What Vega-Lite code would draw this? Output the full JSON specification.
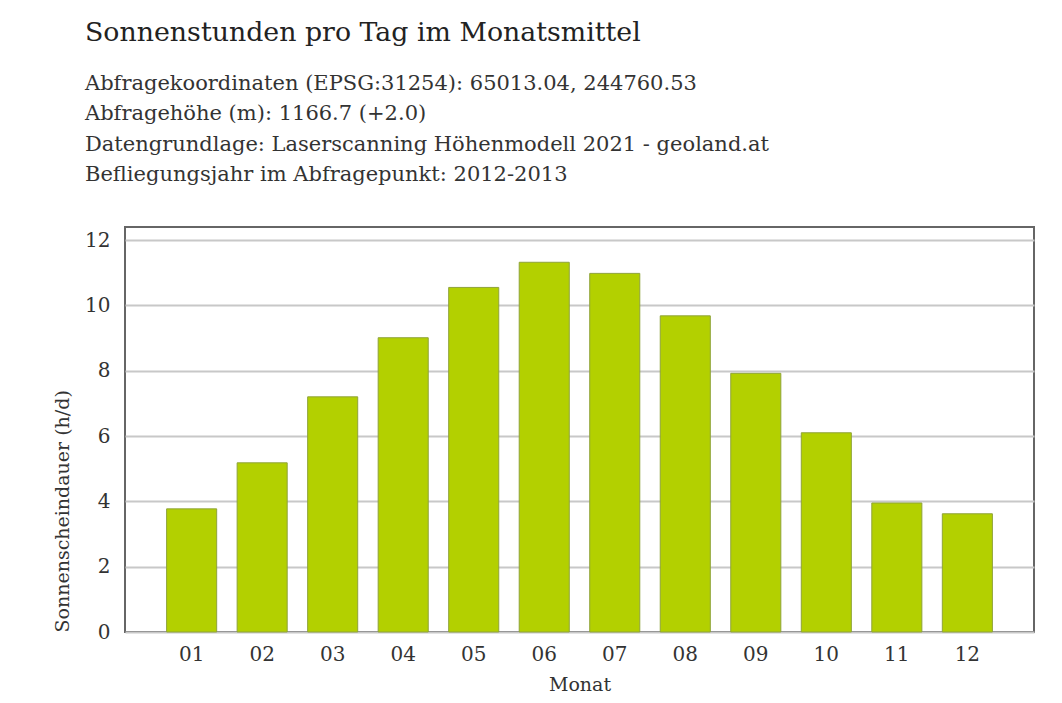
{
  "$schema": "https://vega.github.io/schema/vega-lite/v6.json",
  "autosize": "none",
  "width": 909,
  "height": 405,
  "padding": {"left": 125, "top": 227, "right": 28, "bottom": 71},
  "background": "white",
  "title": {
    "text": "Sonnenstunden pro Tag im Monatsmittel",
    "subtitle": [
      "Abfragekoordinaten (EPSG:31254): 65013.04, 244760.53",
      "Abfragehöhe (m): 1166.7 (+2.0)",
      "Datengrundlage: Laserscanning Höhenmodell 2021 - geoland.at",
      "Befliegungsjahr im Abfragepunkt: 2012-2013"
    ],
    "anchor": "start",
    "frame": "group",
    "dx": -40,
    "offset": 42,
    "font": "DejaVu Serif",
    "fontSize": 26.8,
    "fontWeight": "normal",
    "color": "#222222",
    "subtitleFont": "DejaVu Serif",
    "subtitleFontSize": 21,
    "subtitleColor": "#333333",
    "subtitlePadding": 26,
    "subtitleLineHeight": 30.5
  },
  "data": {
    "values": [
      {"Monat": "01", "Stunden": 3.77},
      {"Monat": "02", "Stunden": 5.18},
      {"Monat": "03", "Stunden": 7.2},
      {"Monat": "04", "Stunden": 9.01},
      {"Monat": "05", "Stunden": 10.55},
      {"Monat": "06", "Stunden": 11.32},
      {"Monat": "07", "Stunden": 10.98},
      {"Monat": "08", "Stunden": 9.68},
      {"Monat": "09", "Stunden": 7.92},
      {"Monat": "10", "Stunden": 6.1},
      {"Monat": "11", "Stunden": 3.95},
      {"Monat": "12", "Stunden": 3.62}
    ]
  },
  "mark": {"type": "bar", "color": "#b3d000", "stroke": "#8fa33a", "strokeWidth": 1},
  "encoding": {
    "x": {
      "field": "Monat",
      "type": "ordinal",
      "scale": {"paddingInner": 0.29, "paddingOuter": 0.59},
      "axis": {
        "title": "Monat",
        "labelAngle": 0,
        "ticks": false,
        "domain": false,
        "grid": false,
        "labelPadding": 12,
        "titlePadding": 11
      }
    },
    "y": {
      "field": "Stunden",
      "type": "quantitative",
      "scale": {"domain": [0, 12.4], "nice": false},
      "axis": {
        "title": "Sonnenscheindauer (h/d)",
        "values": [0, 2, 4, 6, 8, 10, 12],
        "ticks": false,
        "domain": false,
        "grid": true,
        "gridColor": "#c8c8c8",
        "gridWidth": 2,
        "labelPadding": 15,
        "titlePadding": 12,
        "titleAnchor": "start"
      }
    }
  },
  "config": {
    "view": {"stroke": "#666666", "strokeWidth": 2},
    "axis": {
      "labelFont": "DejaVu Serif",
      "labelFontSize": 20,
      "labelColor": "#333333",
      "titleFont": "DejaVu Serif",
      "titleFontSize": 19,
      "titleFontWeight": "normal",
      "titleColor": "#333333"
    }
  }
}
